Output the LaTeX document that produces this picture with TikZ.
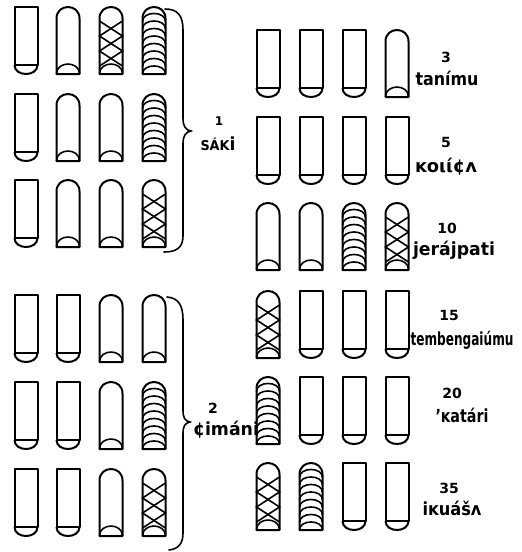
\documentclass[tikz,border=0pt]{standalone}
\usepackage{fontspec}
\setmainfont{DejaVu Sans}
\newcommand{\wfit}[2]{\resizebox{#1}{\height}{#2}}
\def\sw{11.5}
\def\sh{67}
\tikzset{
 stk/.style={line width=2pt, line join=round},
 inr/.style={line width=1.6pt},
 brc/.style={line width=1.6pt, line cap=round},
 word/.style={font=\fontsize{18}{20}\selectfont\bfseries, inner sep=0pt, anchor=base},
 num/.style={font=\fontsize{14}{16}\selectfont\bfseries, inner sep=0pt, anchor=base},
 pics/sticka/.style={code={
   \draw[stk] (-\sw,\sh-9) -- (-\sw,0) -- (\sw,0) -- (\sw,\sh-9) -- cycle;
   \draw[stk] (-\sw,\sh-9) .. controls (-\sw,\sh+3) and (\sw,\sh+3) .. (\sw,\sh-9);
 }},
 pics/roundbody/.style={code={
   \draw[stk] (-\sw,\sh) -- (-\sw,\sw) .. controls (-\sw,-3.83) and (\sw,-3.83) .. (\sw,\sw) -- (\sw,\sh) -- cycle;
 }},
 pics/stickb/.style={code={
   \pic {roundbody};
   \draw[inr] (-\sw,\sh) .. controls (-\sw,\sh-13.3) and (\sw,\sh-13.3) .. (\sw,\sh);
 }},
 pics/stickc/.style={code={
   \pic {roundbody};
   \draw[inr] (-\sw,\sh) .. controls (-\sw,\sh-13.3) and (\sw,\sh-13.3) .. (\sw,\sh);
   \draw[inr] (-\sw,14) -- (\sw,29) -- (-\sw,44) -- (\sw,59);
   \draw[inr] (\sw,14) -- (-\sw,29) -- (\sw,44) -- (-\sw,59);
 }},
 pics/stickd/.style={code={
   \pic {roundbody};
   \foreach \k in {0,...,7}{
     \pgfmathsetmacro\ye{\sh-7.5*\k}
     \draw[inr] (-\sw,\ye) .. controls (-\sw,\ye-10.7) and (\sw,\ye-10.7) .. (\sw,\ye);
   }
 }},
}
\begin{document}
\begin{tikzpicture}[x=1pt,y=-1pt]
\useasboundingbox (0,0) rectangle (522,552);
% left column
\foreach \t/\a/\b/\c/\d in {7/a/b/c/d, 94/a/b/b/d, 180/a/b/b/c, 295/a/a/b/b, 382/a/a/b/d, 469/a/a/b/c}{
  \pic at (26,\t) {stick\a};
  \pic at (68,\t) {stick\b};
  \pic at (111,\t) {stick\c};
  \pic at (154,\t) {stick\d};
}
% right column
\foreach \t/\a/\b/\c/\d in {30/a/a/a/b, 117/a/a/a/a, 203/b/b/d/c, 291/c/a/a/a, 377/d/a/a/a, 463/c/d/a/a}{
  \pic at (268,\t) {stick\a};
  \pic at (311,\t) {stick\b};
  \pic at (354,\t) {stick\c};
  \pic at (397,\t) {stick\d};
}
% braces
\draw[brc] (165,9) .. controls (178,9) and (183,16) .. (183,30) -- (183,118)
  .. controls (183,127) and (186,130) .. (191,131)
  .. controls (186,132) and (183,135) .. (183,144) -- (183,236)
  .. controls (183,248) and (176,252) .. (164,252);
\draw[brc] (167,297) .. controls (179,298) and (183,306) .. (183,320) -- (183,410)
  .. controls (183,418) and (185,421) .. (190,422)
  .. controls (185,423) and (183,426) .. (183,434) -- (183,533)
  .. controls (183,544) and (178,549) .. (169,550);
% labels left
\node[num, font=\fontsize{12}{14}\selectfont\bfseries] (n1) at (219,125) {1};
\node[word] (w1) at (218,150) {\wfit{35pt}{{\fontsize{13.5}{16}\selectfont SÁK}i}};
\node[num] (n2) at (213,413) {2};
\node[word] (w2) at (226,435) {\wfit{66pt}{¢imáni}};
% labels right
\node[num] (n3) at (446,62) {3};
\node[word] (w3) at (447,85) {\wfit{63pt}{tanímu}};
\node[num] (n5) at (446,147) {5};
\node[word] (w5) at (446,172) {\wfit{62pt}{ᴋoιί¢ʌ}};
\node[num] (n10) at (447,233) {10};
\node[word] (w10) at (454,255) {\wfit{82pt}{jerájpati}};
\node[num] (n15) at (449,320) {15};
\node[word] (w15) at (462,345) {\wfit{103pt}{tembengaiúmu}};
\node[num] (n20) at (452,398) {20};
\node[word] (w20) at (462,422) {\wfit{53pt}{ʼᴋatári}};
\node[num] (n35) at (449,493) {35};
\node[word] (w35) at (452,515) {\wfit{59pt}{iᴋuášʌ}};
\end{tikzpicture}
\end{document}
